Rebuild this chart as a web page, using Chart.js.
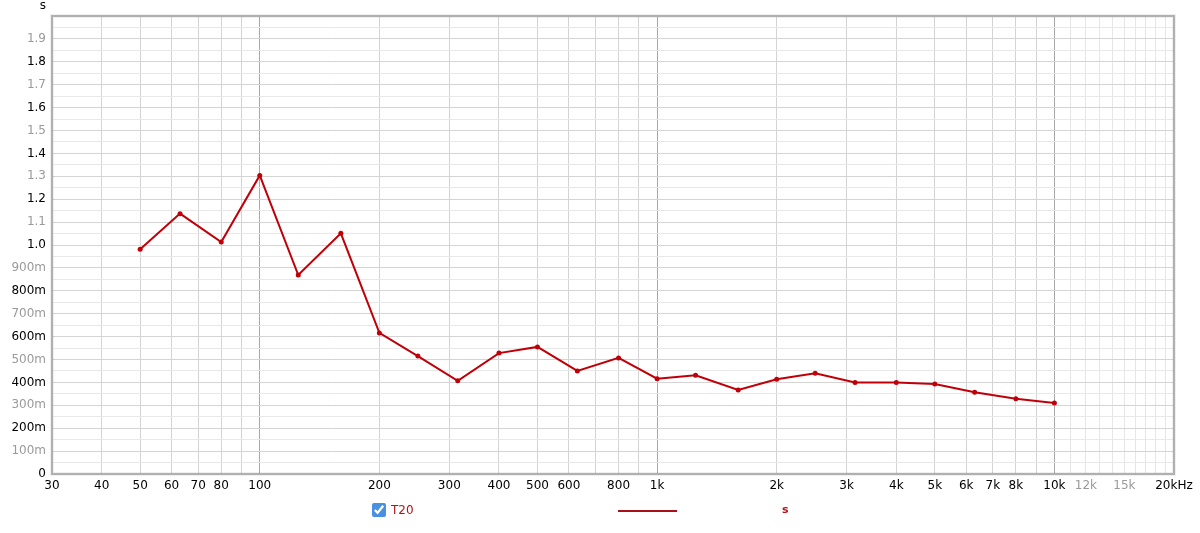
<!DOCTYPE html>
<html>
<head>
<meta charset="utf-8">
<script src="https://cdn.jsdelivr.net/npm/chart.js@4/dist/chart.umd.min.js"></script>
<style>
  html, body { margin: 0; padding: 0; background: #fff; }
  #wrap { position: relative; width: 1200px; height: 533px; }
  #legend { position: absolute; left: 0; top: 0; width: 1200px; height: 533px; pointer-events: none;
            font-family: "DejaVu Sans", sans-serif; font-size: 12px; color: #b3141c; }
  #legend input { position: absolute; left: 372px; top: 503px; width: 14px; height: 14px; margin: 0; accent-color: #4a90e2; }
  #legend .name { position: absolute; left: 391px; top: 503px; }
  #legend .swatch { position: absolute; left: 618px; top: 510px; width: 59px; height: 2px; background: #a8101a; }
  #legend .unit { position: absolute; left: 782px; top: 503px; font-weight: bold; font-size: 11px; }
</style>
</head>
<body>
<div id="wrap">
  <canvas id="rt" width="1200" height="533"></canvas>
  <div id="legend">
    <input type="checkbox" checked>
    <span class="name">T20</span>
    <span class="swatch"></span>
    <span class="unit">s</span>
  </div>
</div>
<script>
// 1/3 octave bands and T20 reverb time (s)
const freqs = [50, 63, 80, 100, 125, 160, 200, 250, 315, 400, 500, 630, 800,
               1000, 1250, 1600, 2000, 2500, 3150, 4000, 5000, 6300, 8000, 10000];
const t20 = [0.981, 1.137, 1.013, 1.304, 0.869, 1.051, 0.616, 0.515, 0.407, 0.528, 0.555, 0.450, 0.507,
             0.416, 0.431, 0.367, 0.414, 0.440, 0.400, 0.400, 0.393, 0.357, 0.329, 0.310];

// x gridlines and their labels
const xGrid = [30, 40, 50, 60, 70, 80, 90, 100, 200, 300, 400, 500, 600, 700, 800, 900,
               1000, 2000, 3000, 4000, 5000, 6000, 7000, 8000, 9000,
               10000, 11000, 12000, 13000, 14000, 15000, 16000, 17000, 18000, 19000, 20000];
const xTickValues = [30, 40, 50, 60, 70, 80, 100, 200, 300, 400, 500, 600, 800,
                     1000, 2000, 3000, 4000, 5000, 6000, 7000, 8000, 10000, 12000, 15000, 20000];
const xTickLabels = ['30', '40', '50', '60', '70', '80', '100', '200', '300', '400', '500', '600', '800',
                     '1k', '2k', '3k', '4k', '5k', '6k', '7k', '8k', '10k', '12k', '15k', '20kHz'];
const xGreyLabels = ['12k', '15k'];

// y labels every 0.1 s
const yTickValues = [0, 0.1, 0.2, 0.3, 0.4, 0.5, 0.6, 0.7, 0.8, 0.9, 1.0, 1.1, 1.2, 1.3, 1.4, 1.5, 1.6, 1.7, 1.8, 1.9];
const yTickLabels = ['0', '100m', '200m', '300m', '400m', '500m', '600m', '700m', '800m', '900m',
                     '1.0', '1.1', '1.2', '1.3', '1.4', '1.5', '1.6', '1.7', '1.8', '1.9'];

const lineColor = '#c00008';

const frame = {
    id: 'frame',
    afterDraw(chart) {
        const { ctx, chartArea: a } = chart;
        ctx.save();
        ctx.strokeStyle = 'rgba(0,0,0,0.06)';
        ctx.lineWidth = 4;
        ctx.strokeRect(a.left, a.top, a.right - a.left, a.bottom - a.top);
        ctx.strokeStyle = '#b0b0b0';
        ctx.lineWidth = 2;
        ctx.strokeRect(a.left, a.top, a.right - a.left, a.bottom - a.top);
        ctx.fillStyle = '#000';
        ctx.font = '12px "DejaVu Sans"';
        ctx.textAlign = 'center';
        ctx.textBaseline = 'middle';
        ctx.fillText('s', 43, 6);
        ctx.restore();
    }
};

const labelFor = (v) => {
    const i = xTickValues.indexOf(v);
    return i >= 0 ? xTickLabels[i] : '';
};

const yLabelFor = (v) => {
    const i = yTickValues.findIndex(t => Math.abs(t - v) < 1e-6);
    return i >= 0 ? yTickLabels[i] : '';
};

new Chart(document.getElementById('rt').getContext('2d'), {
    type: 'line',
    data: {
        datasets: [{
            label: 'T20',
            data: freqs.map((f, i) => ({ x: f, y: t20[i] })),
            borderColor: lineColor,
            backgroundColor: lineColor,
            borderWidth: 2,
            pointRadius: 2.5,
            pointBorderWidth: 0,
            tension: 0
        }]
    },
    options: {
        responsive: false,
        animation: false,
        layout: { padding: { left: 0, top: 16, right: 26, bottom: 0 } },
        plugins: { legend: { display: false }, tooltip: { enabled: false } },
        scales: {
            x: {
                type: 'logarithmic',
                min: 30,
                max: 20000,
                afterBuildTicks: (scale) => { scale.ticks = xGrid.map(v => ({ value: v })); },
                afterFit: (scale) => { scale.height = 59; },
                border: { display: false },
                grid: {
                    drawTicks: false,
                    lineWidth: 1,
                    color: (c) => {
                        const v = c.tick.value;
                        if (v === 100 || v === 1000 || v === 10000) return '#a8a8a8';
                        if (v > 10000) return '#e6e6e6';
                        return '#d4d4d4';
                    }
                },
                ticks: {
                    autoSkip: false,
                    maxRotation: 0,
                    padding: 5,
                    font: { family: '"DejaVu Sans"', size: 12 },
                    color: (c) => xGreyLabels.includes(labelFor(c.tick.value)) ? '#9a9a9a' : '#000',
                    callback: (v) => labelFor(v)
                }
            },
            y: {
                min: 0,
                max: 2.0,
                afterBuildTicks: (scale) => {
                    const t = [];
                    for (let i = 0; i <= 40; i++) t.push({ value: i * 0.05 });
                    scale.ticks = t;
                },
                afterFit: (scale) => { scale.width = 52; },
                border: { display: false },
                grid: {
                    drawTicks: false,
                    lineWidth: 1,
                    color: (c) => Math.round(c.tick.value * 100) % 10 === 0 ? '#d4d4d4' : '#e8e8e8'
                },
                ticks: {
                    autoSkip: false,
                    padding: 6,
                    font: { family: '"DejaVu Sans"', size: 12 },
                    color: (c) => Math.round(c.tick.value * 10) % 2 === 0 ? '#000' : '#9a9a9a',
                    callback: (v) => yLabelFor(v)
                }
            }
        }
    },
    plugins: [frame]
});
</script>
</body>
</html>
